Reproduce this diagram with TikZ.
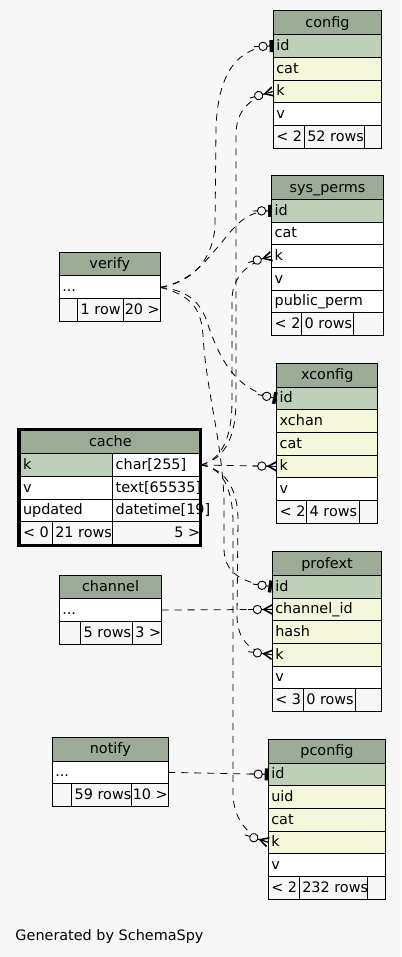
\documentclass[tikz,border=0pt]{standalone}
\usepackage{fontspec}
\setmainfont{DejaVu Sans}
\usetikzlibrary{decorations.markings}
\definecolor{bg}{HTML}{F7F7F7}
\definecolor{hd}{HTML}{9BAB96}
\definecolor{pk}{HTML}{BED1B8}
\definecolor{ix}{HTML}{F4F7DA}
\newcommand\tabfont{\fontsize{14.4}{17}\selectfont}
\tikzset{
  cellbox/.style={draw=black, line width=1pt, anchor=north west, inner sep=0pt, outer sep=0pt},
  celltxt/.style={inner sep=0pt, outer sep=0pt, font=\tabfont, text=black},
  fk/.style={draw=black, line width=0.8pt, dash pattern=on 7pt off 6pt,
    postaction={decorate, decoration={markings, mark=at position 0.999 with {#1}}}},
}
\newcommand\teeodot{%
  \draw[solid, line width=0.9pt] (-19,0) -- (0,0);
  \fill[black] (-3.5,-6) rectangle (0,6);
  \draw[solid, line width=0.9pt, fill=bg] (-10,0) circle (4.2);}
\newcommand\crowodot{%
  \draw[solid, line width=0.9pt] (-24,0) -- (0,0);
  \fill[black] (-10,0) -- (0,-5.5) -- (0,-3.5) -- (-7,0) -- (0,3.5) -- (0,5.5) -- cycle;
  \draw[solid, line width=0.9pt, fill=bg] (-14.8,0) circle (4.2);}
\newcommand\tbhead[5]{%
  \node[cellbox, fill=hd, minimum width=#4pt, minimum height=23.7pt] (#1) at (#2,#3) {};
  \node[celltxt, anchor=base] (#1-t) at ([yshift=-4.5pt]#1.center) {#5};}
\newcommand\trow[7]{%
  \node[cellbox, fill=#6, minimum width=#5pt, minimum height=22.67pt] (#1) at (#2,{#3+23.7+#4*22.67}) {};
  \node[celltxt, anchor=base west] (#1-t) at ([xshift=3pt,yshift=-4.5pt]#1.west) {#7};}
\newcommand\trowr[7]{%
  \node[cellbox, fill=#6, minimum width=#5pt, minimum height=22.67pt] (#1) at (#2,{#3+23.7+#4*22.67}) {};
  \node[celltxt, anchor=base east] (#1-t) at ([xshift=-0.5pt,yshift=-4.5pt]#1.east) {#7};}
\begin{document}
\begin{tikzpicture}[x=1pt, y=-1pt]
\useasboundingbox (0,0) rectangle (401,957);
\fill[bg] (0,0) rectangle (401,957);
% config
\tbhead{config}{273.3}{11}{108.3}{config}
\trow{config-id}{273.3}{11}{0}{108.3}{pk}{id}
\trow{config-cat}{273.3}{11}{1}{108.3}{ix}{cat}
\trow{config-k}{273.3}{11}{2}{108.3}{ix}{k}
\trow{config-v}{273.3}{11}{3}{108.3}{white}{v}
\trow{config-f1}{273.3}{11}{4}{31}{bg}{< 2}
\trow{config-f2}{304.3}{11}{4}{60}{bg}{52 rows}
\trow{config-f3}{364.3}{11}{4}{17.3}{bg}{}
% sys_perms
\tbhead{sysp}{271.7}{175.7}{111.6}{sys\_perms}
\trow{sysp-id}{271.7}{175.7}{0}{111.6}{pk}{id}
\trow{sysp-cat}{271.7}{175.7}{1}{111.6}{white}{cat}
\trow{sysp-k}{271.7}{175.7}{2}{111.6}{white}{k}
\trow{sysp-v}{271.7}{175.7}{3}{111.6}{white}{v}
\trow{sysp-pp}{271.7}{175.7}{4}{111.6}{white}{public\_perm}
\trow{sysp-f1}{271.7}{175.7}{5}{30}{bg}{< 2}
\trow{sysp-f2}{301.7}{175.7}{5}{51.6}{bg}{0 rows}
\trow{sysp-f3}{353.3}{175.7}{5}{30}{bg}{}
% verify
\tbhead{verify}{59.3}{252.3}{101}{verify}
\trow{verify-dots}{59.3}{252.3}{0}{101}{white}{...}
\trow{verify-f1}{59.3}{252.3}{1}{18.4}{bg}{}
\trow{verify-f2}{77.7}{252.3}{1}{45.6}{bg}{1 row}
\trowr{verify-f3}{123.3}{252.3}{1}{37}{bg}{20 >}
% xconfig
\tbhead{xconfig}{276.7}{363.3}{101}{xconfig}
\trow{xconfig-id}{276.7}{363.3}{0}{101}{pk}{id}
\trow{xconfig-xchan}{276.7}{363.3}{1}{101}{ix}{xchan}
\trow{xconfig-cat}{276.7}{363.3}{2}{101}{ix}{cat}
\trow{xconfig-k}{276.7}{363.3}{3}{101}{ix}{k}
\trow{xconfig-v}{276.7}{363.3}{4}{101}{white}{v}
\trow{xconfig-f1}{276.7}{363.3}{5}{30}{bg}{< 2}
\trow{xconfig-f2}{306.7}{363.3}{5}{52.6}{bg}{4 rows}
\trow{xconfig-f3}{359.3}{363.3}{5}{18.4}{bg}{}
% cache
\tbhead{cache}{20}{430}{180.7}{cache}
\trow{cache-k}{20}{430}{0}{92.7}{pk}{k}
\trow{cache-kt}{112.7}{430}{0}{88}{white}{char[255]}
\trow{cache-v}{20}{430}{1}{92.7}{white}{v}
\trow{cache-vt}{112.7}{430}{1}{88}{white}{text[65535]}
\trow{cache-u}{20}{430}{2}{92.7}{white}{updated}
\trow{cache-ut}{112.7}{430}{2}{88}{white}{datetime[19]}
\trow{cache-f1}{20}{430}{3}{32.3}{bg}{< 0}
\trow{cache-f2}{52.3}{430}{3}{60.4}{bg}{21 rows}
\trowr{cache-f3}{112.7}{430}{3}{88}{bg}{5 >}
% channel
\tbhead{channel}{59.3}{575}{102.4}{channel}
\trow{channel-dots}{59.3}{575}{0}{102.4}{white}{...}
\trow{channel-f1}{59.3}{575}{1}{21.4}{bg}{}
\trow{channel-f2}{80.7}{575}{1}{52}{bg}{5 rows}
\trowr{channel-f3}{132.7}{575}{1}{29}{bg}{3 >}
% profext
\tbhead{profext}{272.3}{551.7}{109.4}{profext}
\trow{profext-id}{272.3}{551.7}{0}{109.4}{pk}{id}
\trow{profext-chan}{272.3}{551.7}{1}{109.4}{ix}{channel\_id}
\trow{profext-hash}{272.3}{551.7}{2}{109.4}{ix}{hash}
\trow{profext-k}{272.3}{551.7}{3}{109.4}{ix}{k}
\trow{profext-v}{272.3}{551.7}{4}{109.4}{white}{v}
\trow{profext-f1}{272.3}{551.7}{5}{31}{bg}{< 3}
\trow{profext-f2}{303.3}{551.7}{5}{51.7}{bg}{0 rows}
\trow{profext-f3}{355}{551.7}{5}{26.7}{bg}{}
% notify
\tbhead{notify}{52.3}{737.3}{116}{notify}
\trow{notify-dots}{52.3}{737.3}{0}{116}{white}{...}
\trow{notify-f1}{52.3}{737.3}{1}{19.4}{bg}{}
\trow{notify-f2}{71.7}{737.3}{1}{59.6}{bg}{59 rows}
\trowr{notify-f3}{131.3}{737.3}{1}{37}{bg}{10 >}
% pconfig
\tbhead{pconfig}{268.3}{739.3}{117.4}{pconfig}
\trow{pconfig-id}{268.3}{739.3}{0}{117.4}{pk}{id}
\trow{pconfig-uid}{268.3}{739.3}{1}{117.4}{ix}{uid}
\trow{pconfig-cat}{268.3}{739.3}{2}{117.4}{ix}{cat}
\trow{pconfig-k}{268.3}{739.3}{3}{117.4}{ix}{k}
\trow{pconfig-v}{268.3}{739.3}{4}{117.4}{white}{v}
\trow{pconfig-f1}{268.3}{739.3}{5}{31}{bg}{< 2}
\trow{pconfig-f2}{299.3}{739.3}{5}{68.4}{bg}{232 rows}
\trow{pconfig-f3}{367.7}{739.3}{5}{18}{bg}{}
% connectors from verify
\draw[fk=\teeodot] (verify-dots.east) .. controls (188,283) and (211,265) .. (215,228) -- (216,128) .. controls (218,72) and (238,47) .. (config-id.west);
\draw[fk=\teeodot] (verify-dots.east) .. controls (190,282) and (205,262) .. (222,242) .. controls (238,222) and (248,211) .. (sysp-id.west);
\draw[fk=\teeodot] (verify-dots.east) .. controls (185,290) and (200,300) .. (207,322) .. controls (220,360) and (235,390) .. (xconfig-id.west);
\draw[fk=\teeodot] (verify-dots.east) .. controls (188,295) and (201,305) .. (203,335) .. controls (206,390) and (222,440) .. (224,500) -- (224,550) .. controls (225,575) and (245,583) .. (profext-id.west);
% connectors from cache
\draw[fk=\crowodot] (cache-kt.east) .. controls (220,460) and (236,445) .. (236,400) -- (236,135) .. controls (236,110) and (250,98) .. (config-k.west);
\draw[fk=\crowodot] (cache-kt.east) .. controls (218,460) and (232,445) .. (232,400) -- (232,300) .. controls (232,275) and (250,262) .. (sysp-k.west);
\draw[fk=\crowodot] (cache-kt.east) -- (xconfig-k.west);
\draw[fk=\crowodot] (cache-kt.east) .. controls (222,468) and (238,485) .. (238,520) -- (237,615) .. controls (237,640) and (250,652) .. (profext-k.west);
\draw[fk=\crowodot] (cache-kt.east) .. controls (215,466) and (232,478) .. (233,520) -- (233,795) .. controls (234,820) and (248,836) .. (pconfig-k.west);
% other connectors
\draw[fk=\crowodot] (channel-dots.east) -- (profext-chan.west);
\draw[fk=\teeodot] (notify-dots.east) -- (pconfig-id.west);
% focus frame of cache
\draw[line width=3pt] (18.8,429.2) rectangle (200.8,545.2);
\node[celltxt, anchor=base west] (gen) at (15.5,940.5) {Generated by SchemaSpy};
\end{tikzpicture}
\end{document}
